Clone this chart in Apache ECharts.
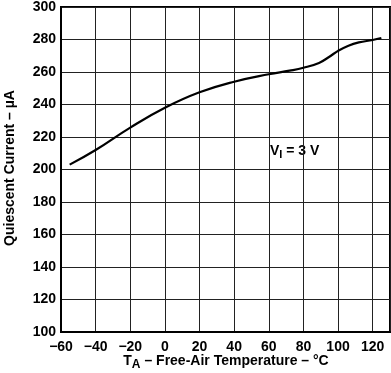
<!DOCTYPE html>
<html><head><meta charset="utf-8">
<script src="https://cdn.jsdelivr.net/npm/echarts@6/dist/echarts.min.js"></script>
<style>html,body{margin:0;padding:0;background:#fff}#c{width:391px;height:373px}</style>
</head><body><div id="c"></div>
<script>
const temperatures = [-55, -40, -20, 0, 20, 40, 60, 72, 80, 89, 95, 100, 106, 112, 120, 125];
const quiescentCurrent = [203, 212, 225.8, 238, 247.5, 254, 258.6, 260.8, 262.6, 265.6, 269.4, 273, 276.2, 278.2, 279.7, 280.9];
const xTicks = [-60, -40, -20, 0, 20, 40, 60, 80, 100, 120];
const yTicks = [100, 120, 140, 160, 180, 200, 220, 240, 260, 280, 300];

const font = '"Liberation Sans", Arial, sans-serif';
const chart = echarts.init(document.getElementById('c'));
chart.setOption({
  animation: false,
  grid: { left: 61, right: 1, top: 4, bottom: 41, show: true, borderColor: '#000', borderWidth: 2, backgroundColor: 'transparent' },
  xAxis: {
    type: 'value', min: -60, max: 130, interval: 20,
    axisLine: { show: true, onZero: false, lineStyle: { color: '#000', width: 2 } },
    axisTick: { show: false },
    splitLine: { show: true, lineStyle: { color: '#222', width: 1 } },
    axisLabel: {
      color: '#000', fontFamily: font, fontWeight: 'bold', fontSize: 14, margin: 8,
      showMaxLabel: false,
      formatter: v => xTicks.includes(v) ? String(v).replace('-', '\u2212') : ''
    }
  },
  yAxis: {
    type: 'value', min: 100, max: 300, interval: 20,
    axisLine: { show: true, onZero: false, lineStyle: { color: '#000', width: 2 } },
    axisTick: { show: false },
    splitLine: { show: true, lineStyle: { color: '#222', width: 1 } },
    axisLabel: {
      color: '#000', fontFamily: font, fontWeight: 'bold', fontSize: 14, margin: 5,
      formatter: v => yTicks.includes(v) ? String(v) : ''
    }
  },
  series: [{
    type: 'line', smooth: 0.45, symbol: 'none',
    lineStyle: { color: '#000', width: 2.2 },
    data: temperatures.map((t, i) => [t, quiescentCurrent[i]])
  }],
  graphic: [
    {
      type: 'text', left: 270, top: 144,
      style: {
        text: '{b|V}{s|I}{b| = 3 V}',
        rich: {
          b: { fontFamily: font, fontWeight: 'bold', fontSize: 14, fill: '#000' },
          s: { fontFamily: font, fontWeight: 'bold', fontSize: 11, fill: '#000', padding: [7, 0, 0, 0] }
        }
      }
    },
    {
      type: 'text', x: 226, y: 361,
      style: {
        text: '{b|T}{s|A}{b| \u2013 Free-Air Temperature \u2013 \u00B0C}',
        align: 'center', verticalAlign: 'middle',
        rich: {
          b: { fontFamily: font, fontWeight: 'bold', fontSize: 14, fill: '#000' },
          s: { fontFamily: font, fontWeight: 'bold', fontSize: 12, fill: '#000', padding: [7, 0, 0, 0] }
        }
      }
    },
    {
      type: 'text', x: 10, y: 168, rotation: Math.PI / 2,
      style: {
        text: 'Quiescent Current \u2013 \u00B5A',
        align: 'center', verticalAlign: 'middle',
        fontFamily: font, fontWeight: 'bold', fontSize: 14, fill: '#000'
      }
    }
  ]
});
</script>
</body></html>
